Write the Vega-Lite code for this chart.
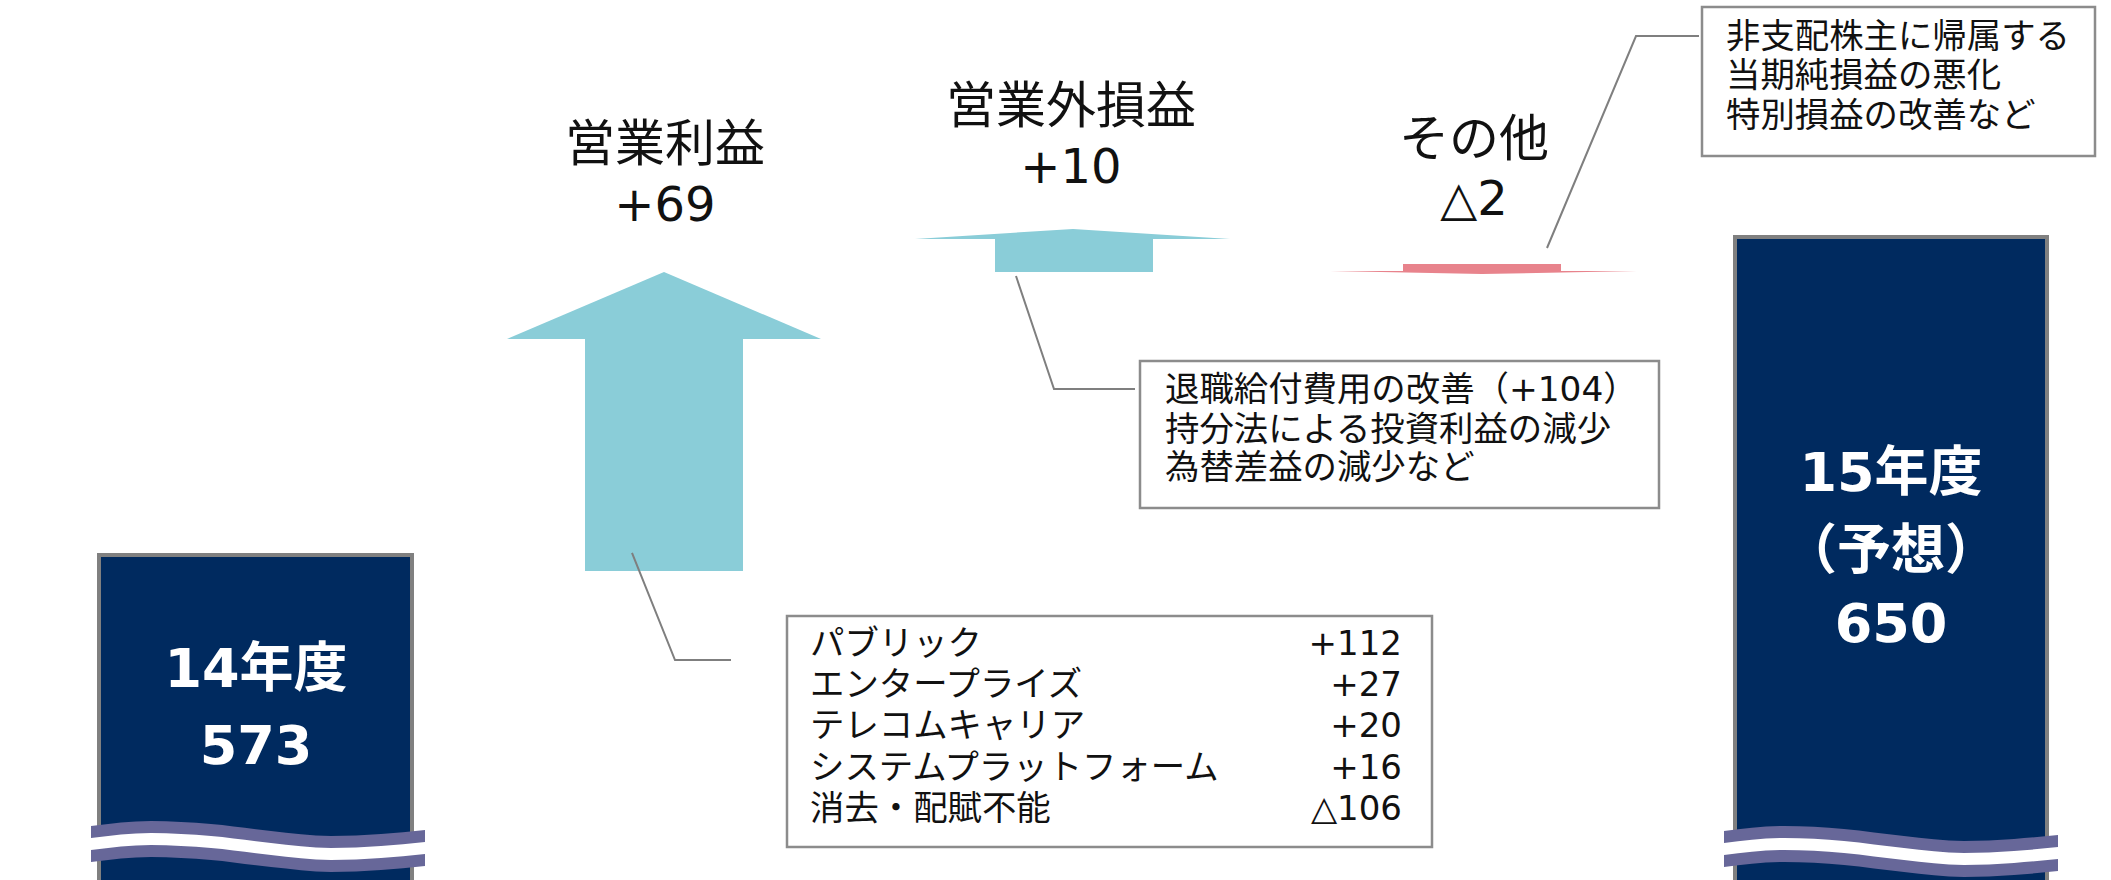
{
  "$schema": "https://vega.github.io/schema/vega-lite/v6.json",
  "width": 2111,
  "height": 880,
  "padding": 0,
  "autosize": {"type": "fit", "contains": "padding"},
  "background": "white",
  "config": {"view": {"stroke": null}},
  "datasets": {
    "bars": [
      {"name": "14年度", "x": 99, "x2": 412, "y": 573, "y2": 490},
      {"name": "15年度（予想）", "x": 1735, "x2": 2047, "y": 650, "y2": 490}
    ],
    "wave": [
      {"g": "L", "x": 91, "y": 507.38, "w1": 504.47, "w2": 501.57, "y2": 498.66},
      {"g": "L", "x": 151, "y": 508.60, "w1": 505.69, "w2": 502.79, "y2": 499.88},
      {"g": "L", "x": 211, "y": 507.87, "w1": 504.96, "w2": 502.06, "y2": 499.15},
      {"g": "L", "x": 271, "y": 506.17, "w1": 503.26, "w2": 500.36, "y2": 497.45},
      {"g": "L", "x": 331, "y": 504.96, "w1": 502.05, "w2": 499.15, "y2": 496.24},
      {"g": "L", "x": 381, "y": 505.45, "w1": 502.54, "w2": 499.64, "y2": 496.73},
      {"g": "L", "x": 425, "y": 506.42, "w1": 503.51, "w2": 500.61, "y2": 497.70},
      {"g": "R", "x": 1724, "y": 506.17, "w1": 503.26, "w2": 500.36, "y2": 497.45},
      {"g": "R", "x": 1784, "y": 507.38, "w1": 504.47, "w2": 501.57, "y2": 498.66},
      {"g": "R", "x": 1844, "y": 506.66, "w1": 503.75, "w2": 500.85, "y2": 497.94},
      {"g": "R", "x": 1904, "y": 504.96, "w1": 502.05, "w2": 499.15, "y2": 496.24},
      {"g": "R", "x": 1964, "y": 503.75, "w1": 500.84, "w2": 497.94, "y2": 495.03},
      {"g": "R", "x": 2014, "y": 504.24, "w1": 501.33, "w2": 498.43, "y2": 495.52},
      {"g": "R", "x": 2058, "y": 505.21, "w1": 502.30, "w2": 499.40, "y2": 496.49}
    ],
    "shafts": [
      {"item": "営業利益", "c": "up", "x": 585, "x2": 743, "y": 569.13, "y2": 625.30},
      {"item": "営業外損益", "c": "up", "x": 995, "x2": 1153, "y": 641.53, "y2": 649.52},
      {"item": "その他", "c": "down", "x": 1403, "x2": 1561, "y": 643.47, "y2": 641.77}
    ],
    "heads": [
      {"item": "営業利益", "c": "up", "x": 507, "y": 625.30, "y2": 625.30},
      {"item": "営業利益", "c": "up", "x": 664, "y": 641.53, "y2": 625.30},
      {"item": "営業利益", "c": "up", "x": 821, "y": 625.30, "y2": 625.30},
      {"item": "営業外損益", "c": "up", "x": 915, "y": 649.52, "y2": 649.52},
      {"item": "営業外損益", "c": "up", "x": 1073, "y": 651.94, "y2": 649.52},
      {"item": "営業外損益", "c": "up", "x": 1230, "y": 649.52, "y2": 649.52},
      {"item": "その他", "c": "down", "x": 1330, "y": 641.77, "y2": 641.77},
      {"item": "その他", "c": "down", "x": 1482, "y": 641.77, "y2": 641.05},
      {"item": "その他", "c": "down", "x": 1637, "y": 641.77, "y2": 641.77}
    ],
    "boxes": [
      {"box": "segments", "x": 787, "x2": 1432, "y": 558.23, "y2": 502.30},
      {"box": "nonop", "x": 1140, "x2": 1659, "y": 619.98, "y2": 584.38},
      {"box": "other", "x": 1702, "x2": 2095, "y": 705.70, "y2": 669.62}
    ],
    "leaders": [
      {"g": "a", "o": 1, "x": 632, "y": 573.49},
      {"g": "a", "o": 2, "x": 675, "y": 547.58},
      {"g": "a", "o": 3, "x": 731, "y": 547.58},
      {"g": "b", "o": 1, "x": 1016, "y": 640.56},
      {"g": "b", "o": 2, "x": 1054, "y": 613.20},
      {"g": "b", "o": 3, "x": 1135, "y": 613.20},
      {"g": "c", "o": 1, "x": 1547, "y": 647.34},
      {"g": "c", "o": 2, "x": 1636, "y": 698.67},
      {"g": "c", "o": 3, "x": 1699, "y": 698.67}
    ],
    "headnames": [
      {"x": 665, "y": 672.0, "label": "営業利益"},
      {"x": 1071, "y": 681.24, "label": "営業外損益"},
      {"x": 1474, "y": 673.25, "label": "その他"}
    ],
    "headvalues": [
      {"x": 665, "y": 657.3, "label": "+69"},
      {"x": 1071, "y": 666.47, "label": "+10"},
      {"x": 1474, "y": 658.72, "label": "△2"}
    ],
    "boxtext": [
      {"x": 810, "y": 551.21, "label": "パブリック"},
      {"x": 810, "y": 541.28, "label": "エンタープライズ"},
      {"x": 810, "y": 531.36, "label": "テレコムキャリア"},
      {"x": 810, "y": 521.19, "label": "システムプラットフォーム"},
      {"x": 810, "y": 511.26, "label": "消去・配賦不能"},
      {"x": 1165, "y": 612.71, "label": "退職給付費用の改善（+104）"},
      {"x": 1165, "y": 603.03, "label": "持分法による投資利益の減少"},
      {"x": 1165, "y": 593.83, "label": "為替差益の減少など"},
      {"x": 1726, "y": 698.19, "label": "非支配株主に帰属する"},
      {"x": 1726, "y": 688.75, "label": "当期純損益の悪化"},
      {"x": 1726, "y": 679.06, "label": "特別損益の改善など"}
    ],
    "boxnums": [
      {"x": 1402, "y": 551.21, "label": "+112"},
      {"x": 1402, "y": 541.28, "label": "+27"},
      {"x": 1402, "y": 531.36, "label": "+20"},
      {"x": 1402, "y": 521.19, "label": "+16"},
      {"x": 1402, "y": 511.26, "label": "△106"}
    ],
    "bartext": [
      {"x": 256, "y": 544.92, "label": "14年度"},
      {"x": 256, "y": 526.27, "label": "573"},
      {"x": 1891, "y": 592.37, "label": "15年度"},
      {"x": 1891, "y": 573.49, "label": "（予想）"},
      {"x": 1891, "y": 555.81, "label": "650"}
    ]
  },
  "encoding": {
    "x": {"field": "x", "type": "quantitative", "scale": {"domain": [0, 2111], "nice": false, "zero": false}, "axis": null},
    "y": {"field": "y", "type": "quantitative", "scale": {"domain": [494.31, 707.39], "nice": false, "zero": false}, "axis": null}
  },
  "layer": [
    {
      "data": {"name": "bars"},
      "mark": {"type": "rect", "fill": "#002a5f", "stroke": "#808080", "strokeWidth": 4, "clip": true},
      "encoding": {
        "x2": {"field": "x2"},
        "y2": {"field": "y2"}
      }
    },
    {
      "data": {"name": "wave"},
      "mark": {"type": "area", "color": "#676799", "interpolate": "monotone", "clip": true},
      "encoding": {
        "y2": {"field": "y2"},
        "detail": {"field": "g"}
      }
    },
    {
      "data": {"name": "wave"},
      "mark": {"type": "area", "color": "#ffffff", "interpolate": "monotone", "clip": true},
      "encoding": {
        "y": {"field": "w1", "type": "quantitative", "scale": {"domain": [494.31, 707.39], "nice": false, "zero": false}, "axis": null},
        "y2": {"field": "w2"},
        "detail": {"field": "g"}
      }
    },
    {
      "data": {"name": "shafts"},
      "mark": {"type": "rect"},
      "encoding": {
        "x2": {"field": "x2"},
        "y2": {"field": "y2"},
        "color": {"field": "c", "type": "nominal", "scale": {"domain": ["up", "down"], "range": ["#8acdd8", "#e8838c"]}, "legend": null}
      }
    },
    {
      "data": {"name": "heads"},
      "mark": {"type": "area", "interpolate": "linear", "opacity": 1},
      "encoding": {
        "y2": {"field": "y2"},
        "detail": {"field": "item"},
        "color": {"field": "c", "type": "nominal", "scale": {"domain": ["up", "down"], "range": ["#8acdd8", "#e8838c"]}, "legend": null}
      }
    },
    {
      "data": {"name": "boxes"},
      "mark": {"type": "rect", "fill": "#ffffff", "stroke": "#8c8c8c", "strokeWidth": 2.5},
      "encoding": {
        "x2": {"field": "x2"},
        "y2": {"field": "y2"}
      }
    },
    {
      "data": {"name": "leaders"},
      "mark": {"type": "line", "color": "#7f7f7f", "strokeWidth": 2},
      "encoding": {
        "detail": {"field": "g"},
        "order": {"field": "o", "type": "quantitative"}
      }
    },
    {
      "data": {"name": "headnames"},
      "mark": {"type": "text", "font": "DejaVu Sans, Noto Sans CJK JP", "fontSize": 50, "color": "#111111", "align": "center", "baseline": "middle"},
      "encoding": {"text": {"field": "label"}}
    },
    {
      "data": {"name": "headvalues"},
      "mark": {"type": "text", "font": "DejaVu Sans, Noto Sans CJK JP", "fontSize": 48, "color": "#111111", "align": "center", "baseline": "middle"},
      "encoding": {"text": {"field": "label"}}
    },
    {
      "data": {"name": "boxtext"},
      "mark": {"type": "text", "font": "DejaVu Sans, Noto Sans CJK JP", "fontSize": 34.4, "color": "#111111", "align": "left", "baseline": "middle"},
      "encoding": {"text": {"field": "label"}}
    },
    {
      "data": {"name": "boxnums"},
      "mark": {"type": "text", "font": "DejaVu Sans, Noto Sans CJK JP", "fontSize": 34, "color": "#111111", "align": "right", "baseline": "middle"},
      "encoding": {"text": {"field": "label"}}
    },
    {
      "data": {"name": "bartext"},
      "mark": {"type": "text", "font": "DejaVu Sans, Noto Sans CJK JP", "fontSize": 54, "fontWeight": "bold", "color": "#ffffff", "align": "center", "baseline": "middle"},
      "encoding": {"text": {"field": "label"}}
    }
  ]
}
